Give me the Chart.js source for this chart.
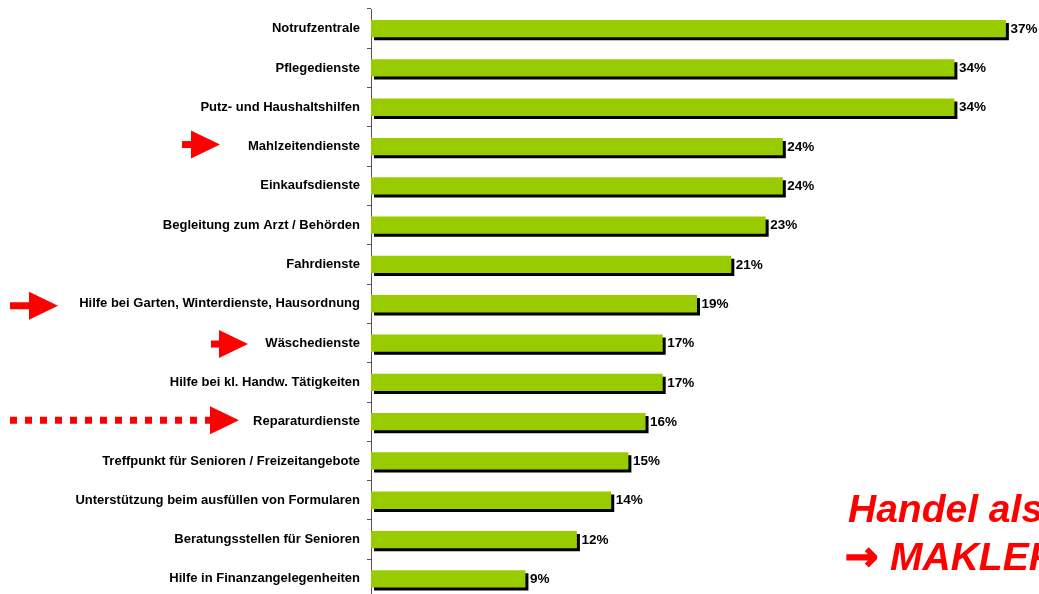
<!DOCTYPE html>
<html>
<head>
<meta charset="utf-8">
<script src="https://cdn.jsdelivr.net/npm/chart.js@4/dist/chart.umd.min.js"></script>
<style>
    html, body { margin: 0; padding: 0; background: #fff; overflow: hidden; }
</style>
</head>
<body>
<canvas id="servicesChart" width="1039" height="600"></canvas>
<script>
// Chart data
const categories = [
    'Notrufzentrale',
    'Pflegedienste',
    'Putz- und Haushaltshilfen',
    'Mahlzeitendienste',
    'Einkaufsdienste',
    'Begleitung zum Arzt / Behörden',
    'Fahrdienste',
    'Hilfe bei Garten, Winterdienste, Hausordnung',
    'Wäschedienste',
    'Hilfe bei kl. Handw. Tätigkeiten',
    'Reparaturdienste',
    'Treffpunkt für Senioren / Freizeitangebote',
    'Unterstützung beim ausfüllen von Formularen',
    'Beratungsstellen für Senioren',
    'Hilfe in Finanzangelegenheiten'
];
const shares = [37, 34, 34, 24, 24, 23, 21, 19, 17, 17, 16, 15, 14, 12, 9];
const markedSolid = ['Mahlzeitendienste', 'Hilfe bei Garten, Winterdienste, Hausordnung', 'Wäschedienste'];
const markedDotted = ['Reparaturdienste'];
const noteLines = ['Handel als', '\u2192 MAKLER'];

const FONT = '"Liberation Sans", Arial, sans-serif';

// Drop shadow for the bars, value labels, arrows and the red note
const decorPlugin = {
    id: 'decor',
    beforeDatasetsDraw(chart) {
        const ctx = chart.ctx;
        ctx.save();
        ctx.shadowColor = '#000';
        ctx.shadowOffsetX = 3;
        ctx.shadowOffsetY = 3;
        ctx.shadowBlur = 0;
    },
    afterDatasetsDraw(chart) {
        const ctx = chart.ctx;
        ctx.restore();

        // Value labels
        ctx.save();
        ctx.font = 'bold 13.5px ' + FONT;
        ctx.fillStyle = '#000';
        ctx.textAlign = 'left';
        ctx.textBaseline = 'middle';
        chart.getDatasetMeta(0).data.forEach((bar, i) => {
            ctx.fillText(shares[i] + '%', bar.x + 4.5, bar.y + 0.5);
        });
        ctx.restore();
    },
    afterDraw(chart) {
        const ctx = chart.ctx;
        const yScale = chart.scales.y;

        function arrow(y, shaftStart, headStart, dotted) {
            ctx.save();
            ctx.fillStyle = '#ff0000';
            ctx.strokeStyle = '#ff0000';
            if (dotted) {
                ctx.lineWidth = 7;
                ctx.setLineDash([7, 8]);
                ctx.beginPath();
                ctx.moveTo(shaftStart, y);
                ctx.lineTo(headStart + 2, y);
                ctx.stroke();
            } else {
                ctx.fillRect(shaftStart, y - 3.5, headStart - shaftStart + 1, 7);
            }
            ctx.beginPath();
            ctx.moveTo(headStart, y - 14);
            ctx.lineTo(headStart + 29, y);
            ctx.lineTo(headStart, y + 14);
            ctx.closePath();
            ctx.fill();
            ctx.restore();
        }

        const solidX = {
            'Mahlzeitendienste': [182, 191, -2],
            'Hilfe bei Garten, Winterdienste, Hausordnung': [10, 29, 2],
            'Wäschedienste': [211, 219, 1]
        };
        markedSolid.forEach(name => {
            const y = yScale.getPixelForValue(categories.indexOf(name));
            const p = solidX[name];
            arrow(y + p[2], p[0], p[1], false);
        });
        markedDotted.forEach(name => {
            const y = yScale.getPixelForValue(categories.indexOf(name));
            arrow(y - 1.5, 10, 210, true);
        });

        // Red note, cut off at the right edge
        ctx.save();
        ctx.fillStyle = '#ff0000';
        ctx.strokeStyle = '#ff0000';
        ctx.textAlign = 'left';
        ctx.textBaseline = 'alphabetic';
        ctx.font = 'italic bold 39px ' + FONT;
        ctx.fillText(noteLines[0], 848, 522);
        const arrowChar = noteLines[1].charAt(0);
        const rest = noteLines[1].slice(1).trim();
        ctx.fillText(rest, 890, 570);
        ctx.font = 'bold 40px "DejaVu Sans", sans-serif';
        ctx.lineWidth = 1.5;
        ctx.fillText(arrowChar, 845, 570);
        ctx.strokeText(arrowChar, 845, 570);
        ctx.restore();
    }
};

new Chart(document.getElementById('servicesChart'), {
    type: 'bar',
    data: {
        labels: categories,
        datasets: [{
            data: shares,
            backgroundColor: '#99cc00',
            borderWidth: 0,
            categoryPercentage: 1,
            barPercentage: 0.44
        }]
    },
    options: {
        indexAxis: 'y',
        responsive: false,
        animation: false,
        events: [],
        layout: {
            padding: { top: 9, bottom: 1.5, left: 0, right: 0 }
        },
        plugins: {
            legend: { display: false },
            tooltip: { enabled: false }
        },
        scales: {
            x: {
                display: false,
                min: 0,
                max: 38.93
            },
            y: {
                afterFit: function(scale) {
                    scale.width = 371;
                    scale.paddingTop = 0;
                    scale.paddingBottom = 0;
                },
                grid: {
                    drawOnChartArea: false,
                    tickLength: 4,
                    color: '#555',
                    offset: true
                },
                border: {
                    color: '#555',
                    width: 1
                },
                ticks: {
                    padding: 7,
                    color: '#000',
                    font: { family: FONT, size: 13, weight: 'bold' }
                }
            }
        }
    },
    plugins: [decorPlugin]
});
</script>
</body>
</html>
